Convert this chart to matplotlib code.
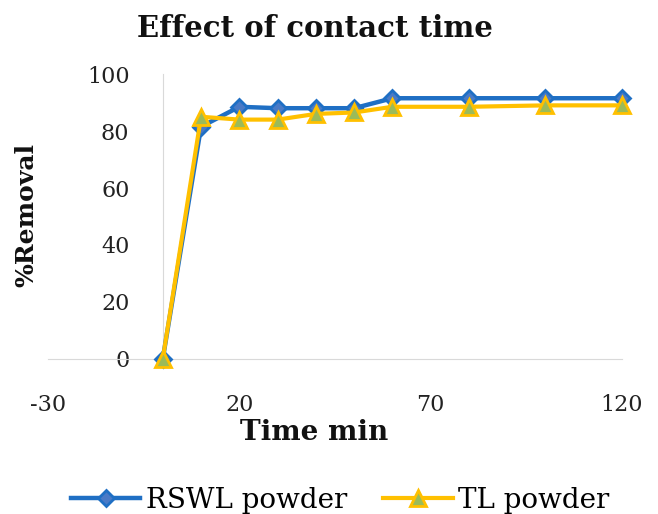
import matplotlib.pyplot as plt

# Données
time_min = [0, 10, 20, 30, 40, 50, 60, 80, 100, 120]
rswl_removal = [0, 81.5, 88.5, 88, 88, 88, 91.5, 91.5, 91.5, 91.5]
tl_removal = [0, 85, 84, 84, 86, 86.5, 88.5, 88.5, 89, 89]

x_ticks = [-30, 20, 70, 120]
y_ticks = [0, 20, 40, 60, 80, 100]

plt.rcParams['axes.unicode_minus'] = False

fig = plt.figure(figsize=(6.58, 5.14), dpi=100)
ax = fig.add_axes([0.0729, 0.3016, 0.8724, 0.5544])

ax.plot(time_min, rswl_removal, color='#1F6FC4', lw=3.2, marker='D',
        markersize=8, markerfacecolor='#4A7AC6', markeredgecolor='#1F6FC4',
        markeredgewidth=2, label='RSWL powder', clip_on=False, zorder=3)
ax.plot(time_min, tl_removal, color='#FFC000', lw=3, marker='^',
        markersize=12, markerfacecolor='#9BBB59', markeredgecolor='#FFC000',
        markeredgewidth=2, label='TL powder', clip_on=False, zorder=4)

ax.set_xlim(-30, 120)
ax.set_ylim(0, 100)
ax.set_xticks(x_ticks)
ax.set_xticklabels([str(v) for v in x_ticks])
ax.set_yticks(y_ticks)

# Axe vertical placé en x = 0, comme dans Excel
ax.spines['left'].set_position(('data', 0))
ax.spines['left'].set_color('#D9D9D9')
ax.spines['bottom'].set_color('#D9D9D9')
ax.spines['top'].set_visible(False)
ax.spines['right'].set_visible(False)

ax.tick_params(axis='both', length=0, labelsize=16, colors='#222222')
ax.tick_params(axis='x', pad=25)
ax.tick_params(axis='y', pad=24)
for lbl in ax.get_xticklabels() + ax.get_yticklabels():
    lbl.set_family('DejaVu Serif')

fig.text(0.479, 0.945, 'Effect of contact time', ha='center', va='center',
         family='DejaVu Serif', fontweight='bold', fontsize=21, color='#111111')
fig.text(0.477, 0.158, 'Time min', ha='center', va='center',
         family='DejaVu Serif', fontweight='bold', fontsize=20, color='#111111')
fig.text(0.040, 0.582, '%Removal', ha='center', va='center', rotation=90,
         family='DejaVu Serif', fontweight='bold', fontsize=18, color='#111111')

fig.legend(loc='center', bbox_to_anchor=(0.517, 0.027), ncol=2, frameon=False,
           prop={'family': 'DejaVu Serif', 'size': 20}, handlelength=2.5,
           handletextpad=0.2, columnspacing=1.3, borderpad=0)

fig.savefig('out.png', dpi=100)
plt.close()
